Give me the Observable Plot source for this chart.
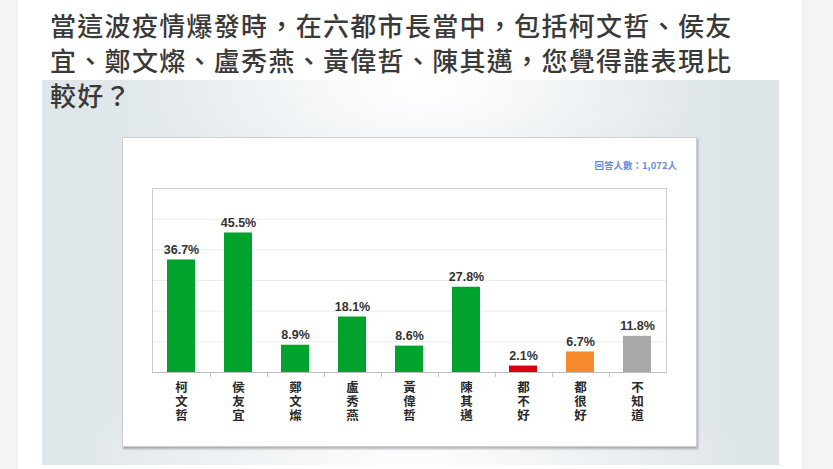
<!DOCTYPE html>
<html>
<head>
<meta charset="utf-8">
<script src="https://cdn.jsdelivr.net/npm/d3@7"></script>
<script src="https://cdn.jsdelivr.net/npm/@observablehq/plot@0.6"></script>
<style>
  html, body { margin: 0; padding: 0; }
  body { width: 833px; height: 469px; overflow: hidden; background: #f4f4f4; position: relative; }
  #card { position: absolute; left: 17px; top: 0; width: 786px; height: 469px; background: #fff; border-left: 1px solid #ececec; border-right: 1px solid #ececec; box-sizing: border-box; }
  #photo { position: absolute; left: 42px; top: 80px; width: 737px; height: 385px;
    background:
      radial-gradient(ellipse 38% 30% at 52% 2%, rgba(255,255,255,1) 0%, rgba(255,255,255,0) 100%),
      radial-gradient(ellipse 45% 25% at 50% 98%, rgba(255,255,255,0.9) 0%, rgba(255,255,255,0) 100%),
      linear-gradient(90deg, #dfe6ea 0%, #e8edf0 50%, #dde4e8 100%); }
  #box { position: absolute; left: 122px; top: 137px; width: 575px; height: 310px; background: #fff; border: 1px solid #cfcfcf; box-shadow: 1px 2px 2px rgba(0,0,0,0.28); box-sizing: border-box; }
  #title { position: absolute; left: 50px; top: 7px; font-family: "Noto Sans CJK TC", sans-serif; font-weight: 500; font-size: 26px; line-height: 35px; letter-spacing: 1.3px; color: #3a3a3a; white-space: nowrap; z-index: 5; }
  #count { position: absolute; right: 156px; top: 158px; font-family: "Noto Sans CJK TC", sans-serif; font-weight: 700; font-size: 9.5px; color: #6a8ce0; z-index: 5; }
  #chart { position: absolute; left: 42px; top: 80px; z-index: 3; }
</style>
</head>
<body>
<div id="card"></div>
<div id="photo"></div>
<div id="box"></div>
<div id="title">當這波疫情爆發時，在六都市長當中，包括柯文哲、侯友<br>宜、鄭文燦、盧秀燕、黃偉哲、陳其邁，您覺得誰表現比<br>較好？</div>
<div id="count">回答人數：1,072人</div>
<div id="chart"></div>
<script>
const categories = ["柯文哲", "侯友宜", "鄭文燦", "盧秀燕", "黃偉哲", "陳其邁", "都不好", "都很好", "不知道"];
const values = [36.7, 45.5, 8.9, 18.1, 8.6, 27.8, 2.1, 6.7, 11.8];
const colors = ["#00a32b", "#00a32b", "#00a32b", "#00a32b", "#00a32b", "#00a32b", "#d8000f", "#f78a2d", "#a9a9a9"];
const valueLabels = ["36.7%", "45.5%", "8.9%", "18.1%", "8.6%", "27.8%", "2.1%", "6.7%", "11.8%"];
const gridValues = [10, 20, 30, 40, 50];

const data = categories.map((c, i) => ({cat: c, value: values[i], color: colors[i], label: valueLabels[i]}));

function boundaryTicks(index, scales, values, dims) {
  const x = scales.x;
  const step = typeof x.step === "function" ? x.step() : scales.scales.x.step;
  const bw = typeof x.bandwidth === "function" ? x.bandwidth() : scales.scales.x.bandwidth;
  const base = dims.height - dims.marginBottom;
  const g = d3.create("svg:g").attr("stroke", "#c4c4c4").attr("stroke-width", 1);
  categories.slice(0, -1).forEach(c => {
    const bx = Math.round(x(c) + bw / 2 + step / 2) + 0.5;
    g.append("line").attr("x1", bx).attr("x2", bx).attr("y1", base).attr("y2", base + 5);
  });
  return g.node();
}

const plot = Plot.plot({
  width: 737,
  height: 385,
  marginLeft: 110,
  marginRight: 113,
  marginTop: 108,
  marginBottom: 93,
  style: {background: "transparent", fontFamily: "'Liberation Sans', Arial, 'Noto Sans CJK TC', sans-serif", overflow: "visible"},
  x: {domain: categories, paddingInner: 0.515, paddingOuter: 0.2575, label: null},
  y: {domain: [0, 60], label: null},
  marks: [
    Plot.gridY(gridValues, {stroke: "#ececec", strokeOpacity: 1}),
    Plot.barY(data, {x: "cat", y: "value", fill: "color"}),
    Plot.frame({stroke: "#cfcfcf"}),
    Plot.ruleY([0], {stroke: "#bdbdbd"}),
    boundaryTicks,
    Plot.text(data, {x: "cat", y: "value", text: "label", dy: -10, fontSize: 12.5, fontWeight: "bold", fill: "#333"}),
    Plot.axisX({tickSize: 0, tickPadding: 10, tickFormat: d => d.split("").join("\n"), fontSize: 12.5, fontWeight: "bold", fill: "#2a2a2a", lineHeight: 1.12, fontFamily: "'Noto Sans CJK TC', sans-serif", label: null}),
    Plot.axisY({ticks: [], label: null})
  ]
});
document.getElementById("chart").appendChild(plot);
</script>
</body>
</html>
